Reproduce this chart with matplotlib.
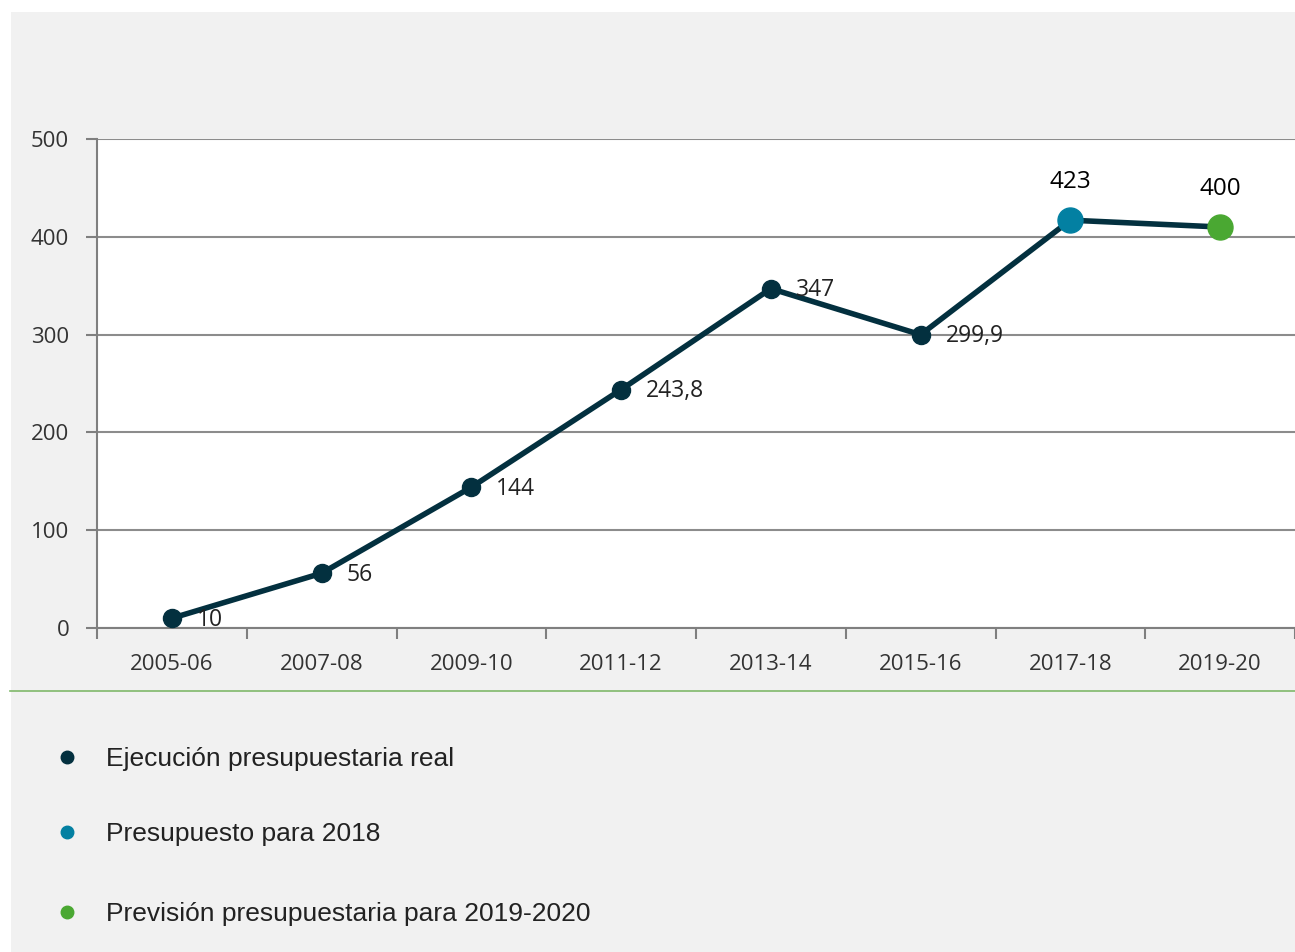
import matplotlib
matplotlib.use("Agg")
import matplotlib.pyplot as plt
from matplotlib.patches import Rectangle
from matplotlib.lines import Line2D
import numpy as np

categories = ["2005-06", "2007-08", "2009-10", "2011-12", "2013-14", "2015-16", "2017-18", "2019-20"]
values = [10, 56, 144, 243.8, 347, 299.9, 417, 410]
labels = ["10", "56", "144", "243,8", "347", "299,9", "423", "400"]
legend_labels = ["Ejecución presupuestaria real", "Presupuesto para 2018", "Previsión presupuestaria para 2019-2020"]
yticks = [0, 100, 200, 300, 400, 500]

DARK = "#03303f"
BLUE = "#0380a2"
GREEN = "#4aa832"
BG = "#f1f1f1"
W, H = 1295, 952

fig = plt.figure(figsize=(W / 100, H / 100), dpi=100)
fig.patch.set_facecolor("white")
fig.patches.append(Rectangle((11 / W, 0), 1, 1 - 12 / H, transform=fig.transFigure,
                             facecolor=BG, edgecolor="none", zorder=-10))
fig.add_artist(Line2D([10 / W, 1], [1 - 691 / H] * 2, transform=fig.transFigure,
                      color="#7fb86a", lw=1.2))

ax = fig.add_axes([97 / W, 1 - 628 / H, 1 - 97 / W, (628 - 139) / H])
ax.set_facecolor("white")
x = np.arange(len(categories))
ax.set_xlim(-0.5, len(categories) - 0.5)
ax.set_ylim(0, 500)

tickfont = dict(family="Open Sans", size=16, color="#333333")
ax.set_yticks(yticks)
ax.set_yticklabels([str(v) for v in yticks], **tickfont)
ax.set_xticks(x)
ax.set_xticklabels(categories, **tickfont)
ax.set_xticks(np.arange(-0.5, len(categories)), minor=True)
ax.tick_params(axis="x", which="major", length=0, pad=18.5)
ax.tick_params(axis="x", which="minor", length=8, width=1.5, color="#7f7f7f", direction="out")
ax.tick_params(axis="y", length=8, width=1.5, color="#7f7f7f", direction="out", pad=12)
ax.grid(axis="y", color="#8c8c8c", lw=1.5)
ax.set_axisbelow(True)
for s in ["top", "right"]:
    ax.spines[s].set_visible(False)
for s in ["left", "bottom"]:
    ax.spines[s].set_color("#7f7f7f")
    ax.spines[s].set_linewidth(1.5)

ax.plot(x, values, color=DARK, lw=4, zorder=3, solid_capstyle="round")
ax.plot(x[:6], values[:6], "o", color=DARK, ms=13, zorder=4)
ax.plot(x[6], values[6], "o", color=BLUE, ms=18, zorder=4)
ax.plot(x[7], values[7], "o", color=GREEN, ms=18, zorder=4)

lblfont = dict(family="Open Sans", size=16.5, color="#222222")
for i in range(6):
    ax.annotate(labels[i], (x[i], values[i]), xytext=(18, -1), textcoords="offset points",
                ha="left", va="center", **lblfont)
for i in (6, 7):
    ax.annotate(labels[i], (x[i], values[i]), xytext=(0, 18.5), textcoords="offset points",
                ha="center", va="bottom", family="Open Sans", size=17.5, color="black")

legcolors = [DARK, BLUE, GREEN]
legy = [757, 832, 912]
for c, yy, t in zip(legcolors, legy, legend_labels):
    fig.add_artist(Line2D([67 / W], [1 - yy / H], marker="o", color=c, ms=9,
                          transform=fig.transFigure, linestyle="none"))
    fig.text(106 / W, 1 - (yy + 2) / H, t, ha="left", va="center",
             family=["Liberation Sans", "DejaVu Sans"], size=19, color="#222222")

fig.savefig("out.png", dpi=100, facecolor=fig.get_facecolor())
